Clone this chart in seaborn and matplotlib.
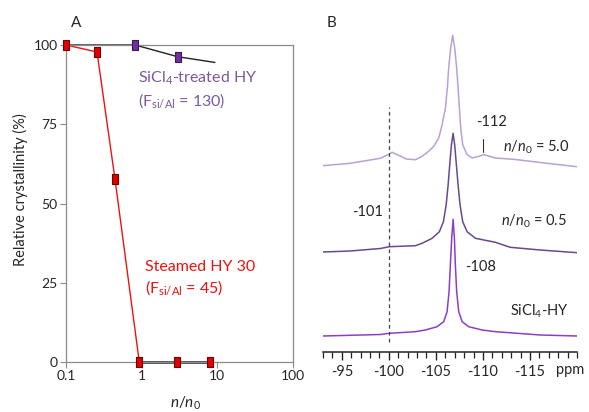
import numpy as np
import pandas as pd
import matplotlib
matplotlib.use("Agg")
import matplotlib.pyplot as plt
from matplotlib.path import Path
import seaborn as sns

# ---------------- data ----------------
# panel A: relative crystallinity vs n/n0
steam_x = [0.1, 0.257, 0.444, 0.93, 2.93, 8.0]
steam_y = [100, 97.8, 57.7, 0, 0, 0]
sicl4_x = [0.1, 0.82, 3.0]
sicl4_y = [100, 100, 96.3]
sicl4_trend_x = [3.0, 9.3]
sicl4_trend_y = [96.3, 94.5]

x_ticks = [0.1, 1, 10, 100]
x_tick_labels = ["0.1", "1", "10", "100"]
y_ticks = [0, 25, 50, 75, 100]

# panel B: 29Si NMR spectra (ppm, intensity above baseline)
top_ppm = [-93.0, -95.9, -99.1, -99.6, -100.05, -100.34, -101.2, -101.85, -102.82, -103.53,
           -104.23, -104.77, -105.3, -105.66, -106.01, -106.22, -106.36, -106.57, -106.79,
           -107.0, -107.21, -107.36, -107.5, -107.64, -107.85, -108.32, -108.85, -109.5,
           -110.09, -111.33, -113.24, -116.83, -120.0]
top_int = [0.3, 2.7, 7.7, 10, 12, 13.7, 10, 7, 6.3, 9.7,
           14.7, 19.7, 28, 41.3, 58, 78, 98, 118, 130.7,
           118, 98, 78, 58, 38, 21.3, 11.3, 8, 9.5,
           11.3, 8, 6.7, 2.7, -0.7]

mid_ppm = [-93.0, -95.9, -99.1, -100.05, -102.82, -103.53, -104.6, -105.37, -105.8, -106.09,
           -106.3, -106.47, -106.65, -106.83, -107.0, -107.18, -107.36, -107.57, -107.85,
           -108.32, -109.2, -111.33, -112.9, -116.1, -120.0]
mid_int = [0, 1, 3.5, 5.3, 6.3, 8.7, 13.7, 20.3, 30.3, 47,
           67, 87, 107, 118.7, 107, 87, 67, 47, 30.3,
           20.3, 13.7, 9.7, 4.7, 2, -0.7]

bot_ppm = [-93.0, -99.1, -100.05, -102.82, -103.88, -105.13, -105.83, -106.19, -106.4, -106.54,
           -106.68, -106.83, -106.97, -107.07, -107.21, -107.43, -107.79, -108.49, -109.91,
           -111.33, -116.1, -120.0]
bot_int = [0, 1.5, 2.7, 4.3, 6, 9.3, 14.3, 24.3, 44.3, 71,
           97.7, 116.7, 97.7, 71, 44.3, 24.3, 14.3, 9.3, 6,
           4.3, 1, 0]

ppm_ticks = [-95, -100, -105, -110, -115]

# ---------------- style ----------------
sns.set_style("white")
plt.rcParams['font.family'] = ['Lato', 'DejaVu Sans']
plt.rcParams['mathtext.fontset'] = 'custom'
plt.rcParams['mathtext.rm'] = 'Lato'
plt.rcParams['mathtext.it'] = 'Lato:italic'
plt.rcParams['axes.unicode_minus'] = False

W, H = 589, 412
fig = plt.figure(figsize=(W / 100, H / 100), dpi=100)

def fbox(l, r, t, b):
    return [l / W, 1 - b / H, (r - l) / W, (b - t) / H]

rect = Path([(-0.33, -0.5), (0.33, -0.5), (0.33, 0.5), (-0.33, 0.5), (-0.33, -0.5)],
            [Path.MOVETO, Path.LINETO, Path.LINETO, Path.LINETO, Path.CLOSEPOLY])

# ---------------- panel A ----------------
axA = fig.add_axes(fbox(66, 293, 45, 362))
gray = "#8c8c8c"
red = "#ee1111"
purple = "#7030a0"
purple_txt = "#7b5a9e"

sns.lineplot(x=sicl4_x, y=sicl4_y, ax=axA, color="#222222", lw=1.0, sort=False, clip_on=False)
sns.lineplot(x=sicl4_trend_x, y=sicl4_trend_y, ax=axA, color="#222222", lw=1.0, sort=False, clip_on=False)
sns.lineplot(x=steam_x[:4], y=steam_y[:4], ax=axA, color=red, lw=1.0, sort=False, clip_on=False)
sns.lineplot(x=steam_x[3:], y=steam_y[3:], ax=axA, color="#444444", lw=2.0, sort=False, clip_on=False)
axA.plot(sicl4_x[1:], sicl4_y[1:], ls="none", marker=rect, ms=6.5, mfc=purple, mec="#3a1a55",
         mew=0.8, clip_on=False, zorder=5)
axA.plot(steam_x, steam_y, ls="none", marker=rect, ms=6.5, mfc="#e00000", mec="#700000",
         mew=0.8, clip_on=False, zorder=6)

axA.set_xscale("log")
axA.set_xlim(0.1, 100)
axA.set_ylim(0, 100)
axA.set_xticks(x_ticks)
axA.set_xticklabels(x_tick_labels)
axA.xaxis.set_minor_locator(matplotlib.ticker.NullLocator())
axA.set_yticks(y_ticks)
axA.tick_params(axis="both", direction="out", length=4, width=0.8, color=gray,
                labelsize=10, pad=2, bottom=True, left=True)
for s in axA.spines.values():
    s.set_color(gray)
    s.set_linewidth(0.9)

axA.text(0.894, 89.6, r"SiCl$_4$-treated HY", color=purple_txt, fontsize=11.5, va="center")
axA.text(0.894, 82.4, r"(F$_{\mathrm{si/Al}}$ = 130)", color=purple_txt, fontsize=11.5, va="center")
axA.text(1.107, 30.0, "Steamed HY 30", color=red, fontsize=11.5, va="center")
axA.text(1.107, 23.3, r"(F$_{\mathrm{si/Al}}$ = 45)", color=red, fontsize=11.5, va="center")

fig.text(76 / W, 1 - 23 / H, "A", fontsize=11, ha="center", va="center")
fig.text(20 / W, 1 - 190 / H, "Relative crystallinity (%)", rotation=90, fontsize=10.5,
         ha="center", va="center")
fig.text(185 / W, 1 - 403 / H, r"$n/n_0$", fontsize=11, ha="center", va="center")

# ---------------- panel B ----------------
axB = fig.add_axes(fbox(323, 577, 20, 352))
c_top = "#b9a2d2"
c_mid = "#674a8c"
c_bot = "#8d3fc4"
offsets = [186, 100, 16]

for ppm, inten, off, col in [(top_ppm, top_int, offsets[0], c_top),
                             (mid_ppm, mid_int, offsets[1], c_mid),
                             (bot_ppm, bot_int, offsets[2], c_bot)]:
    df = pd.DataFrame({"ppm": ppm, "y": np.array(inten) + off})
    sns.lineplot(data=df, x="ppm", y="y", ax=axB, color=col, lw=1.1, sort=False)

axB.plot([-100.05, -100.05], [10, 245], color="#444444", lw=0.9, ls=(0, (3, 2.5)))
axB.plot([-110.0, -110.0], [200, 213], color="#333333", lw=0.8)

axB.set_xlim(-93, -120)
axB.set_ylim(0, 332)
axB.set_xticks(ppm_ticks)
axB.set_xticklabels([str(t) for t in ppm_ticks])
axB.set_xticks(np.arange(-93, -121, -1), minor=True)
axB.set_yticks([])
axB.set_xlabel("")
axB.set_ylabel("")
axB.tick_params(axis="x", which="major", direction="out", length=6, width=1.0,
                color="#222222", labelsize=10.5, pad=3, bottom=True)
axB.tick_params(axis="x", which="minor", direction="out", length=4, width=0.9,
                color="#222222", bottom=True)
for k in ["left", "top", "right"]:
    axB.spines[k].set_visible(False)
axB.spines["bottom"].set_color("#222222")
axB.spines["bottom"].set_linewidth(1.1)

axB.text(-110.9, 230, "-112", fontsize=10.5, ha="center", va="center")
axB.text(-112.1, 205, r"$n/n_0$ = 5.0", fontsize=10.5, ha="left", va="center")
axB.text(-97.7, 140, "-101", fontsize=10.5, ha="center", va="center")
axB.text(-111.9, 131, r"$n/n_0$ = 0.5", fontsize=10.5, ha="left", va="center")
axB.text(-109.7, 85, "-108", fontsize=10.5, ha="center", va="center")
axB.text(-116.0, 41, r"SiCl$_4$-HY", fontsize=10.5, ha="center", va="center")
axB.text(-119.3, -18, "ppm", fontsize=10.5, ha="center", va="center", clip_on=False)

fig.text(332 / W, 1 - 23 / H, "B", fontsize=11, ha="center", va="center")

fig.savefig("out.png", dpi=100)
